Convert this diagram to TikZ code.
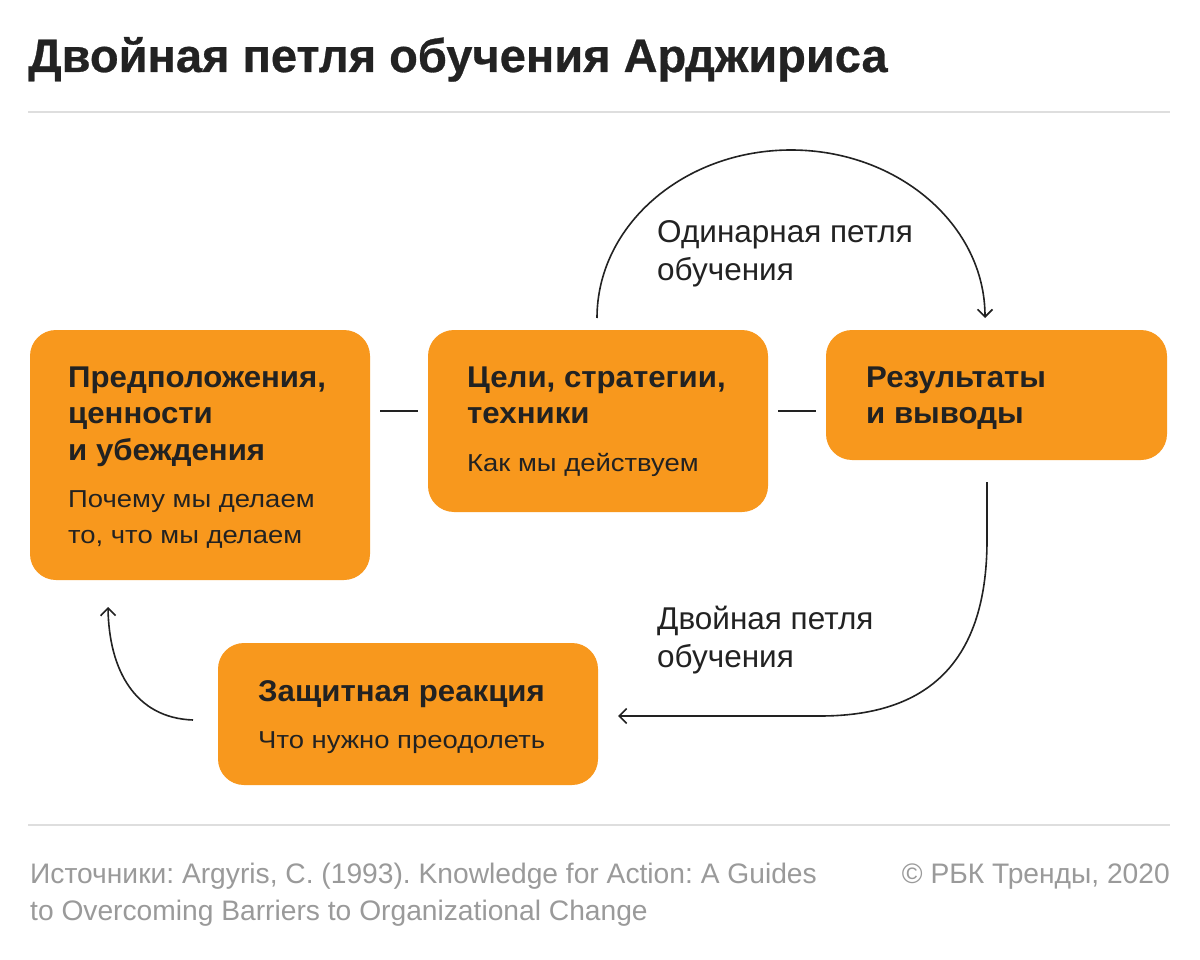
\documentclass[tikz,border=0pt]{standalone}
\usepackage{fontspec}
\setmainfont{Liberation Sans}
\newfontfamily\headfont[FakeStretch=1.04]{Liberation Sans}
\newfontfamily\subfont[FakeStretch=1.12]{Liberation Sans}
\newfontfamily\titlefont[FakeBold=0.6]{Liberation Sans}
\usetikzlibrary{arrows.meta}
\definecolor{rbkorange}{HTML}{F8981D}
\definecolor{ink}{HTML}{222222}
\definecolor{rulegray}{HTML}{DEDEDE}
\definecolor{footgray}{HTML}{9A9A9A}
\frenchspacing
\begin{document}
\frenchspacing
\begin{tikzpicture}[x=1pt,y=-1pt,
  box/.style={fill=rbkorange, rounded corners=26pt, anchor=north west, inner sep=0pt, outer sep=0pt},
  head/.style={anchor=base west, inner sep=0pt, font=\headfont\fontsize{30}{36}\selectfont\bfseries, text=ink},
  sub/.style={anchor=base west, inner sep=0pt, font=\subfont\fontsize{24.5}{36}\selectfont, text=ink},
  looplabel/.style={anchor=base west, inner sep=0pt, font=\fontsize{31.5}{38}\selectfont, text=ink},
  foot/.style={inner sep=0pt, font=\fontsize{28.2}{36}\selectfont\frenchspacing, text=footgray},
  link/.style={draw=ink, line width=1.6pt},
  looparrow/.style={draw=ink, line width=1.6pt, -{Straight Barb[length=7.5pt,width=15pt,line width=1.6pt]}},
  sep/.style={draw=rulegray, line width=1.5pt}]
\useasboundingbox[fill=white] (0,0) rectangle (1200,960);

% title
\node[anchor=base west, inner sep=0pt, font=\titlefont\fontsize{47}{50}\selectfont\bfseries, text=ink] (title) at (28,72) {Двойная петля обучения Арджириса};
\coordinate (r1a) at (28,112);
\coordinate (r1b) at (1170,112);
\draw[sep] (r1a) -- (r1b);

% boxes
\node[box, minimum width=340pt, minimum height=250pt] (b1) at (30,330) {};
\node[box, minimum width=340pt, minimum height=182pt] (b2) at (428,330) {};
\node[box, minimum width=341pt, minimum height=130pt] (b3) at (826,330) {};
\node[box, minimum width=380pt, minimum height=142pt] (b4) at (218,643) {};

% box texts
\node[head] (t1a) at (68,387) {Предположения,};
\node[head] (t1b) at (68,423) {ценности};
\node[head] (t1c) at (68,460) {и убеждения};
\node[sub]  (t1d) at (68,507) {Почему мы делаем};
\node[sub]  (t1e) at (68,543) {то, что мы делаем};

\node[head] (t2a) at (467,387) {Цели, стратегии,};
\node[head] (t2b) at (467,423) {техники};
\node[sub]  (t2c) at (467,471) {Как мы действуем};

\node[head] (t3a) at (866,387) {Результаты};
\node[head] (t3b) at (866,423) {и выводы};

\node[head] (t4a) at (258,701) {Защитная реакция};
\node[sub]  (t4b) at (258,748) {Что нужно преодолеть};

% loop labels
\node[looplabel] (l1a) at (657,243) {Одинарная петля};
\node[looplabel] (l1b) at (657,280) {обучения};
\node[looplabel] (l2a) at (657,629) {Двойная петля};
\node[looplabel] (l2b) at (657,667) {обучения};

% short links
\draw[link, shorten <=10pt, shorten >=10pt] (b1.east |- 0,411) -- (b2.west |- 0,411);
\draw[link, shorten <=10pt, shorten >=10pt] (b2.east |- 0,411) -- (b3.west |- 0,411);

% single loop
\coordinate (s1) at (597,318);
\coordinate (s2) at (985,318);
\draw[looparrow] (s1) .. controls (597,225) and (684,150) .. (791,150)
                      .. controls (898,150) and (985,225) .. (s2);

% double loop
\coordinate (d1) at (987,482);
\coordinate (d2) at (618,716);
\draw[looparrow] (d1) -- (987,540) .. controls (987,670) and (920,716) .. (820,716) -- (d2);

% back to assumptions
\coordinate (e1) at (193,720);
\coordinate (e2) at (108,607);
\draw[looparrow] (e1) .. controls (135,718) and (109,670) .. (e2);

% footer
\coordinate (r2a) at (28,825);
\coordinate (r2b) at (1170,825);
\draw[sep] (r2a) -- (r2b);
\node[foot, anchor=base west] (f1) at (30,883) {Источники: Argyris, C. (1993). Knowledge for Action: A Guides};
\node[foot, anchor=base west] (f2) at (30,920) {to Overcoming Barriers to Organizational Change};
\node[foot, anchor=base east] (f3) at (1170,883) {© РБК Тренды, 2020};
\end{tikzpicture}
\end{document}
